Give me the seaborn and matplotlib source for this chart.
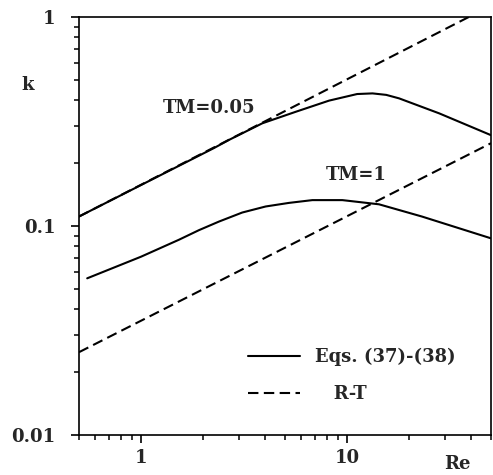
import matplotlib
matplotlib.use("Agg")
import matplotlib.pyplot as plt
import seaborn as sns
import pandas as pd
from matplotlib.ticker import LogLocator, NullFormatter, FixedLocator, FixedFormatter

# ---- data ----
re_tm005 = [0.5, 1.0, 2.26, 2.67, 3.88, 5.64, 8.18, 11.2, 13.3, 15.5, 17.9, 28.0, 50.0]
k_tm005 = [0.111, 0.157, 0.236, 0.258, 0.310, 0.352, 0.398, 0.428, 0.431, 0.424, 0.408, 0.346, 0.272]

re_tm1 = [0.548, 1.0, 1.53, 1.91, 2.39, 3.10, 4.03, 5.23, 6.79, 8.02, 9.49, 14.3, 23.1, 50.0]
k_tm1 = [0.0562, 0.0713, 0.0860, 0.0955, 0.105, 0.116, 0.124, 0.129, 0.133, 0.133, 0.133, 0.127, 0.111, 0.0873]

re_rt005 = [0.5, 39.0]
k_rt005 = [0.111, 1.0]
re_rt1 = [0.5, 50.0]
k_rt1 = [0.0249, 0.249]

xticks = [1, 10]
xtick_labels = ["1", "10"]
yticks = [0.01, 0.1, 1]
ytick_labels = ["0.01", "0.1", "1"]

sns.set_style("ticks")
plt.rcParams["font.family"] = ["DejaVu Serif"]
plt.rcParams["font.weight"] = "bold"

fig = plt.figure(figsize=(4.93, 4.75), dpi=100)
ax = fig.add_axes([79 / 493, 1 - 435 / 475, 412 / 493, 418 / 475])

LW = 1.5
dash = (0, (5, 2.6))
sns.lineplot(x=re_tm005, y=k_tm005, ax=ax, color="black", lw=LW, label="Eqs. (37)-(38)", sort=False)
sns.lineplot(x=re_tm1, y=k_tm1, ax=ax, color="black", lw=LW, label="_nolegend_", sort=False)
sns.lineplot(x=re_rt005, y=k_rt005, ax=ax, color="black", lw=LW, linestyle=dash, label="   R-T", sort=False)
sns.lineplot(x=re_rt1, y=k_rt1, ax=ax, color="black", lw=LW, linestyle=dash, label="_nolegend_", sort=False)

ax.set_xscale("log")
ax.set_yscale("log")
ax.set_xlim(0.5, 50)
ax.set_ylim(0.01, 1)

for s in ax.spines.values():
    s.set_linewidth(1.2)
    s.set_color("black")

ax.xaxis.set_major_locator(FixedLocator(xticks))
ax.xaxis.set_major_formatter(FixedFormatter(xtick_labels))
ax.yaxis.set_major_locator(FixedLocator(yticks))
ax.yaxis.set_major_formatter(FixedFormatter(ytick_labels))
ax.xaxis.set_minor_locator(LogLocator(base=10, subs=range(2, 10)))
ax.yaxis.set_minor_locator(LogLocator(base=10, subs=range(2, 10)))
ax.xaxis.set_minor_formatter(NullFormatter())
ax.yaxis.set_minor_formatter(NullFormatter())

ax.tick_params(which="major", direction="out", length=6, width=1.2, labelsize=13, color="black")
ax.tick_params(which="minor", direction="out", length=3.5, width=1.1, color="black")
ax.tick_params(axis="x", which="major", pad=4)
ax.tick_params(axis="y", which="major", pad=11)
for lab in ax.get_xticklabels() + ax.get_yticklabels():
    lab.set_fontweight("bold")

ax.set_xlabel("")
ax.set_ylabel("")
fig.text(28 / 493, 1 - 85 / 475, "k", fontsize=13, fontweight="bold", ha="center", va="center")
fig.text(457 / 493, 1 - 464 / 475, "Re", fontsize=13, fontweight="bold", ha="center", va="center")

ax.text(209 / 493, 1 - 108 / 475, "TM=0.05", fontsize=13, fontweight="bold",
        ha="center", va="center", transform=fig.transFigure)
ax.text(356 / 493, 1 - 175 / 475, "TM=1", fontsize=13, fontweight="bold",
        ha="center", va="center", transform=fig.transFigure)

leg = ax.legend(loc="center left", bbox_to_anchor=(0.41, 0.142), frameon=False,
                fontsize=13, handlelength=2.9, handletextpad=0.8, labelspacing=1.05,
                borderpad=0, borderaxespad=0)
for t in leg.get_texts():
    t.set_fontweight("bold")

fig.savefig("out.png", dpi=100)
